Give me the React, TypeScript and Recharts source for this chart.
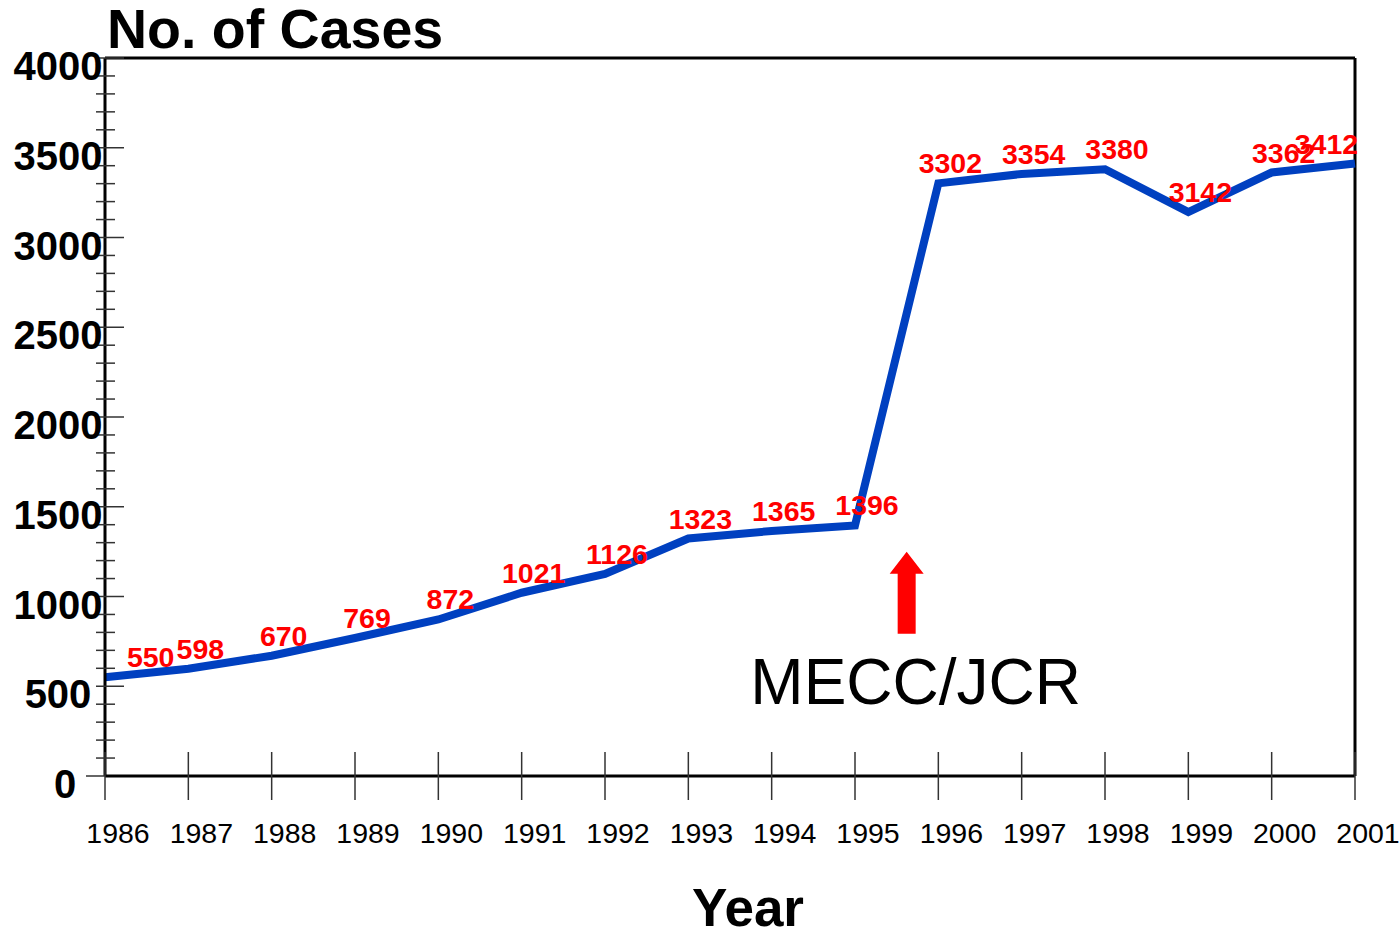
import React from 'react';
import { LineChart, Line, XAxis, YAxis, LabelList, ReferenceLine, ReferenceDot } from 'recharts';

const years = [1986, 1987, 1988, 1989, 1990, 1991, 1992, 1993, 1994, 1995, 1996, 1997, 1998, 1999, 2000, 2001];
const cases = [550, 598, 670, 769, 872, 1021, 1126, 1323, 1365, 1396, 3302, 3354, 3380, 3142, 3362, 3412];
const yMajorTicks = [0, 500, 1000, 1500, 2000, 2500, 3000, 3500, 4000];
const yAllTicks = Array.from({ length: 41 }, (_, i) => i * 100);
const annotationText = 'MECC/JCR';
const annotationX = 1995.62;
const annotationY = 1250;

const data = years.map((y, i) => ({ year: y, cases: cases[i] }));

const FONT = 'Arial, "Liberation Sans", Helvetica, sans-serif';
const W = 1399;
const H = 934;
const M = { top: 58, right: 44, left: 0, bottom: 0 };
const YW = 105;
const XH = 158;
const PLOT_LEFT = M.left + YW;
const PLOT_RIGHT = W - M.right;

const XTick = (props: any) => {
  const { x, y, payload } = props;
  return (
    <g>
      <line x1={x} x2={x} y1={y - 24} y2={y + 24} stroke="#333" strokeWidth={1.5} />
      <text x={x + 13} y={y + 67} textAnchor="middle" fontFamily={FONT} fontSize={28.5} fill="#000">
        {payload.value}
      </text>
    </g>
  );
};

const YTick = (props: any) => {
  const { x, y, payload } = props;
  const v = payload.value;
  const major = yMajorTicks.includes(v);
  let x1 = x - 9;
  let x2 = x + 10;
  if (major) {
    x2 = x + 19;
  }
  if (v === 0) {
    x1 = x - 19;
    x2 = x;
  }
  return (
    <g>
      <line x1={x1} x2={x2} y1={y} y2={y} stroke="#333" strokeWidth={1.5} />
      {major && (
        <text x={v === 0 ? x - 40 : x - 47} y={y + 22} textAnchor="middle" fontFamily={FONT} fontWeight="bold" fontSize={40} fill="#000">
          {v}
        </text>
      )}
    </g>
  );
};

const ValueLabel = (props: any) => {
  const { x, y, value } = props;
  const w = String(value).length * 15.8;
  let cx = x + 12;
  const minC = PLOT_LEFT + 22 + w / 2;
  const maxC = PLOT_RIGHT + 3 - w / 2;
  if (cx < minC) cx = minC;
  if (cx > maxC) cx = maxC;
  return (
    <text x={cx} y={y - 10} textAnchor="middle" fontFamily={FONT} fontWeight="bold" fontSize={28.5} fill="#ff0000">
      {value}
    </text>
  );
};

const Arrow = (props: any) => {
  const { cx, cy } = props;
  return (
    <g>
      <polygon
        points={`${cx},${cy} ${cx + 17},${cy + 22} ${cx + 9},${cy + 22} ${cx + 9},${cy + 82} ${cx - 9},${cy + 82} ${cx - 9},${cy + 22} ${cx - 17},${cy + 22}`}
        fill="#ff0000"
      />
      <text x={cx + 9} y={cy + 152} textAnchor="middle" fontFamily={FONT} fontSize={64} fill="#000">
        {annotationText}
      </text>
    </g>
  );
};

export default function App() {
  return (
    <div style={{ position: 'absolute', left: 0, top: 0, width: W, height: H, background: '#fff' }}>
      <LineChart width={W} height={H} data={data} margin={M}>
        <XAxis
          dataKey="year"
          type="number"
          domain={[1986, 2001]}
          ticks={years}
          interval={0}
          height={XH}
          tickSize={0}
          tickMargin={0}
          tickLine={false}
          axisLine={{ stroke: '#000', strokeWidth: 3 }}
          tick={<XTick />}
        />
        <YAxis
          type="number"
          domain={[0, 4000]}
          ticks={yAllTicks}
          interval={0}
          width={YW}
          tickSize={0}
          tickMargin={0}
          tickLine={false}
          axisLine={{ stroke: '#000', strokeWidth: 3 }}
          tick={<YTick />}
        />
        <ReferenceLine y={4000} stroke="#000" strokeWidth={3} />
        <ReferenceLine x={2001} stroke="#000" strokeWidth={3} />
        <Line
          type="linear"
          dataKey="cases"
          stroke="#0040C0"
          strokeWidth={8}
          dot={false}
          isAnimationActive={false}
        >
          <LabelList dataKey="cases" content={<ValueLabel />} />
        </Line>
        <ReferenceDot x={annotationX} y={annotationY} r={0} shape={<Arrow />} />
      </LineChart>
      <svg width={W} height={H} style={{ position: 'absolute', left: 0, top: 0, pointerEvents: 'none' }}>
        <text x={107} y={48} fontFamily={FONT} fontWeight="bold" fontSize={55.5} fill="#000">No. of Cases</text>
        <text x={748} y={926} textAnchor="middle" fontFamily={FONT} fontWeight="bold" fontSize={53} fill="#000">Year</text>
      </svg>
    </div>
  );
}
